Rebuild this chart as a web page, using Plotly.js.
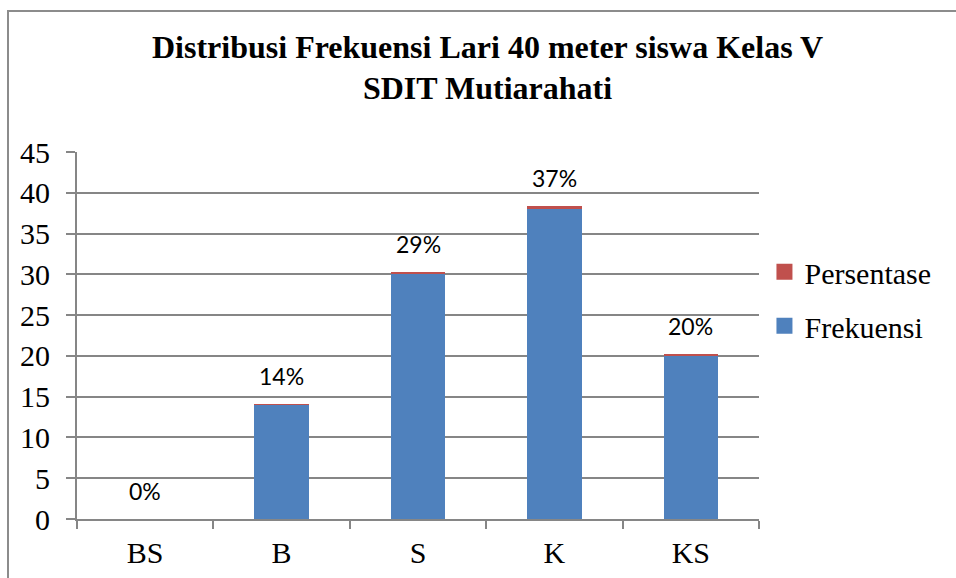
<!DOCTYPE html>
<html>
<head>
<meta charset="utf-8">
<script src="https://cdn.plot.ly/plotly-3.0.1.min.js"></script>
<style>
  html, body { margin: 0; padding: 0; background: #fff; overflow: hidden; }
  #wrap { position: relative; width: 956px; height: 578px; }
  #chart { position: absolute; left: 0; top: 0; width: 956px; height: 578px; }
  #frame { position: absolute; left: 7px; top: 10px; width: 1000px; height: 700px;
           border-left: 2px solid #8c8c8c; border-top: 2px solid #8c8c8c; pointer-events: none; }
</style>
</head>
<body>
<div id="wrap">
  <div id="chart"></div>
  <div id="frame"></div>
</div>
<script>
const categories = ["BS", "B", "S", "K", "KS"];
const frekuensi = [0, 14, 30, 38, 20];
const persentase = [0, 0.14, 0.29, 0.37, 0.20];
const percentLabels = ["0%", "14%", "29%", "37%", "20%"];
const yTicks = [0, 5, 10, 15, 20, 25, 30, 35, 40, 45];

const serif = "Liberation Serif, Times New Roman, serif";
const blue = "#4F81BD", red = "#C0504D";

const traces = [
  {
    type: "bar", name: "Frekuensi", x: categories, y: frekuensi,
    marker: { color: blue }, showlegend: false, hoverinfo: "skip"
  },
  {
    type: "bar", name: "Persentase", x: categories, y: persentase,
    marker: { color: red }, showlegend: false, hoverinfo: "skip"
  },
  // legend entries with larger square swatches
  {
    type: "scatter", mode: "markers", name: "Persentase", x: [null], y: [null],
    marker: { symbol: "square", size: 16, color: red }, legendgroup: "p", legendrank: 1
  },
  {
    type: "scatter", mode: "markers", name: "Frekuensi", x: [null], y: [null],
    marker: { symbol: "square", size: 16, color: blue }, legendgroup: "f", legendrank: 2
  }
];

const annotations = categories.map((c, i) => ({
  x: c, y: frekuensi[i] + persentase[i], xref: "x", yref: "y",
  text: percentLabels[i], showarrow: false, yshift: 28,
  xanchor: "center", yanchor: "middle",
  font: { family: "Lato, Noto Sans, sans-serif", size: 23, color: "#000" }
}));

const layout = {
  width: 956, height: 578,
  margin: { l: 77, r: 197, t: 152, b: 59 },
  paper_bgcolor: "#fff", plot_bgcolor: "#fff",
  barmode: "stack", bargap: 0.6,
  title: {
    text: "<b>Distribusi Frekuensi Lari 40 meter siswa Kelas V<br>SDIT Mutiarahati</b>",
    font: { family: serif, size: 32, color: "#000" },
    x: 0.51, xanchor: "center", y: 0.9, yanchor: "top", yref: "container"
  },
  xaxis: {
    type: "category", categoryarray: categories, categoryorder: "array",
    showline: true, linecolor: "#868686", linewidth: 2,
    ticks: "outside", tickson: "boundaries", ticklen: 8, tickwidth: 2, tickcolor: "#868686",
    tickfont: { family: serif, size: 30, color: "#000" }, showgrid: false,
    ticklabelstandoff: 6
  },
  yaxis: {
    range: [0, 45], tickvals: yTicks, showline: true, linecolor: "#868686", linewidth: 2,
    ticks: "outside", ticklen: 9, tickwidth: 2, tickcolor: "#868686",
    showgrid: true, gridcolor: "#868686", gridwidth: 2, zeroline: false,
    tickfont: { family: serif, size: 30, color: "#000" }, ticklabelstandoff: 10
  },
  legend: {
    x: 1.008, xanchor: "left", y: 0.6, yanchor: "middle",
    traceorder: "grouped", tracegroupgap: 12,
    font: { family: serif, size: 30, color: "#000" }, bgcolor: "rgba(0,0,0,0)"
  },
  annotations: annotations,
  showlegend: true
};

Plotly.newPlot("chart", traces, layout, { staticPlot: true, displayModeBar: false });
</script>
</body>
</html>
